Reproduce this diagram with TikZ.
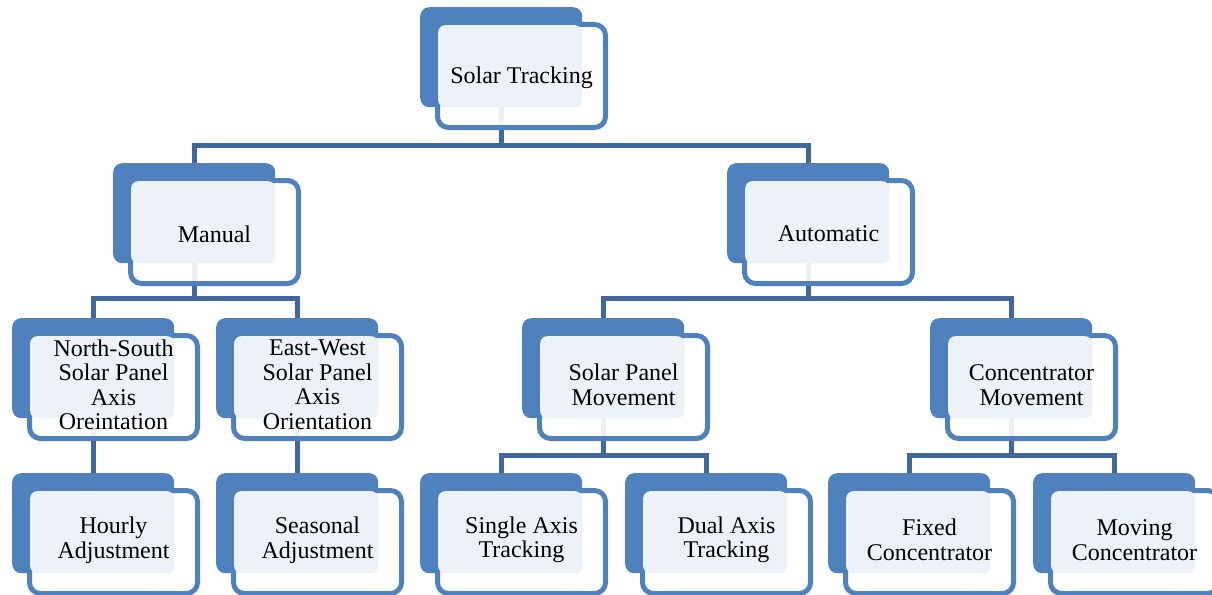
\documentclass[tikz,border=0pt]{standalone}
\usepackage{fontspec}
\setmainfont{Liberation Serif}
\usetikzlibrary{calc}
\definecolor{accblue}{HTML}{4F81BD}
\definecolor{connblue}{HTML}{41689E}
\definecolor{lightfill}{RGB}{237,241,248}
\tikzset{
  backbox/.style={anchor=north west, fill=accblue, draw=none, rounded corners=9pt,
    minimum width=162pt, minimum height=100pt, inner sep=0pt},
  frontbox/.style={anchor=north west, fill=white, fill opacity=0.9, draw=accblue, draw opacity=1,
    line width=5pt, rounded corners=11pt, minimum width=168pt, minimum height=103pt, inner sep=0pt},
  lightbox/.style={anchor=north west, fill=lightfill, draw=none, rounded corners=7pt,
    minimum width=144pt, minimum height=82pt, inner sep=0pt},
  lbl/.style={align=center, inner sep=0pt, font=\fontsize{24}{24.5}\selectfont},
  one/.style={yshift=-2pt},
  multi/.style={yshift=2pt},
  conn/.style={draw=connblue, line width=5pt},
}
\begin{document}
\begin{tikzpicture}[x=1pt, y=-1pt]
\useasboundingbox (0,0) rectangle (1212,594);
% back boxes
\node[backbox] (b1) at (420,7) {};
\node[backbox] (b2) at (113,163) {};
\node[backbox] (b3) at (727,163) {};
\node[backbox] (b4) at (12,318) {};
\node[backbox] (b5) at (216,318) {};
\node[backbox] (b6) at (522,318) {};
\node[backbox] (b7) at (930,318) {};
\node[backbox] (b8) at (12,473) {};
\node[backbox] (b9) at (216,473) {};
\node[backbox] (b10) at (420,473) {};
\node[backbox] (b11) at (625,473) {};
\node[backbox] (b12) at (828,473) {};
\node[backbox] (b13) at (1033,473) {};
% connectors
\coordinate (j1) at (b1.south |- 0,145);
\coordinate (j2) at (b2.south |- 0,298);
\coordinate (j3) at (b3.south |- 0,298);
\coordinate (j6) at (b6.south |- 0,455);
\coordinate (j7) at (b7.south |- 0,455);
\draw[conn] (b1.south) -- (j1);
\draw[conn] (b2.north) |- (j1) -| (b3.north);
\draw[conn] (b2.south) -- (j2);
\draw[conn] (b4.north) |- (j2) -| (b5.north);
\draw[conn] (b3.south) -- (j3);
\draw[conn] (b6.north) |- (j3) -| (b7.north);
\draw[conn] (b4.south) -- (b8.north);
\draw[conn] (b5.south) -- (b9.north);
\draw[conn] (b6.south) -- (j6);
\draw[conn] (b10.north) |- (j6) -| (b11.north);
\draw[conn] (b7.south) -- (j7);
\draw[conn] (b12.north) |- (j7) -| (b13.north);
% front boxes and light fills
\foreach \i in {1,...,13}{
  \node[frontbox] (f\i) at ($(b\i.north west)+(15,15)$) {};
  \node[lightbox] (l\i) at ($(b\i.north west)+(18,18)$) {};
}
% labels
\node[lbl,one] (t1) at (f1.center) {Solar Tracking};
\node[lbl,one] (t2) at (f2.center) {Manual};
\node[lbl,one] (t3) at (f3.center) {Automatic};
\node[lbl,multi] (t4) at (f4.center) {North-South\\Solar Panel\\Axis\\Oreintation};
\node[lbl,multi] (t5) at (f5.center) {East-West\\Solar Panel\\Axis\\Orientation};
\node[lbl,multi] (t6) at (f6.center) {Solar Panel\\Movement};
\node[lbl,multi] (t7) at (f7.center) {Concentrator\\Movement};
\node[lbl,multi] (t8) at (f8.center) {Hourly\\Adjustment};
\node[lbl,multi] (t9) at (f9.center) {Seasonal\\Adjustment};
\node[lbl,multi] (t10) at (f10.center) {Single Axis\\Tracking};
\node[lbl,multi] (t11) at (f11.center) {Dual Axis\\Tracking};
\node[lbl,multi] (t12) at (f12.center) {Fixed\\Concentrator};
\node[lbl,multi] (t13) at (f13.center) {Moving\\Concentrator};
\end{tikzpicture}
\end{document}
